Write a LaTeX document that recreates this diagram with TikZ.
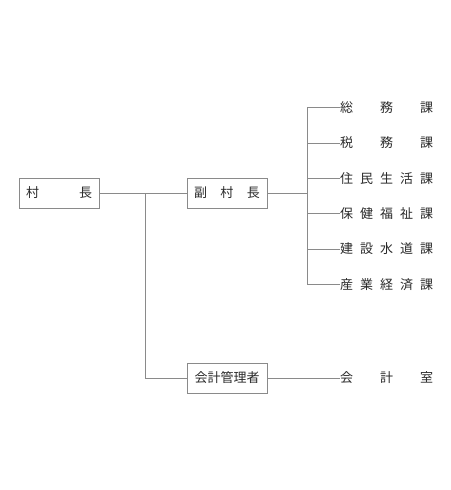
\documentclass[tikz,border=0pt]{standalone}
\usepackage{fontspec}
\newfontfamily\jpfont{Noto Sans CJK JP}
\usetikzlibrary{positioning}
\definecolor{cLine}{HTML}{8A8A8A}
\definecolor{cText}{HTML}{2A2A2A}
\tikzset{
  postbox/.style={
    draw=cLine, line width=0.8pt,
    minimum width=80pt, minimum height=30pt, inner sep=0pt,
    font=\jpfont\fontsize{13}{13}\selectfont, text=cText
  },
  sectlabel/.style={
    anchor=west, inner sep=0pt,
    font=\jpfont\fontsize{13}{13}\selectfont, text=cText
  },
  orgline/.style={
    draw=cLine, line width=0.8pt
  },
}
\newcommand{\spreadtext}[2]{\makebox[#1][s]{#2}}

\begin{document}
\begin{tikzpicture}[x=1pt, y=-1pt]
\useasboundingbox (0,0) rectangle (450,490);

% posts
\node[postbox] (chief) at (59,193) {\spreadtext{66pt}{村\hfill 長}};
\node[postbox] (vice) at (227,193) {\spreadtext{66pt}{副\hfill 村\hfill 長}};
\node[postbox] (acct) at (227,378) {会計管理者};

% sections
\node[sectlabel] (s1) at (340,107.7) {\spreadtext{93pt}{総\hfill 務\hfill 課}};
\node[sectlabel] (s2) at (340,143.0) {\spreadtext{93pt}{税\hfill 務\hfill 課}};
\node[sectlabel] (s3) at (340,178.3) {\spreadtext{93pt}{住\hfill 民\hfill 生\hfill 活\hfill 課}};
\node[sectlabel] (s4) at (340,213.6) {\spreadtext{93pt}{保\hfill 健\hfill 福\hfill 祉\hfill 課}};
\node[sectlabel] (s5) at (340,248.9) {\spreadtext{93pt}{建\hfill 設\hfill 水\hfill 道\hfill 課}};
\node[sectlabel] (s6) at (340,284.2) {\spreadtext{93pt}{産\hfill 業\hfill 経\hfill 済\hfill 課}};
\node[sectlabel] (room) at (340,378) {\spreadtext{93pt}{会\hfill 計\hfill 室}};

% junctions
\coordinate (trunk) at (145,193);
\coordinate (bus) at (307,193);

% connectors
\draw[orgline] (chief.east) -- (vice.west);
\draw[orgline] (trunk) |- (acct.west);
\draw[orgline] (vice.east) -- (bus);
\draw[orgline] (s1.west) -- (s1.west -| bus) -- (s6.west -| bus) -- (s6.west);
\foreach \i in {2,...,5}
  \draw[orgline] (s\i.west -| bus) -- (s\i.west);
\draw[orgline] (acct.east) -- (room.west);

\end{tikzpicture}
\end{document}
